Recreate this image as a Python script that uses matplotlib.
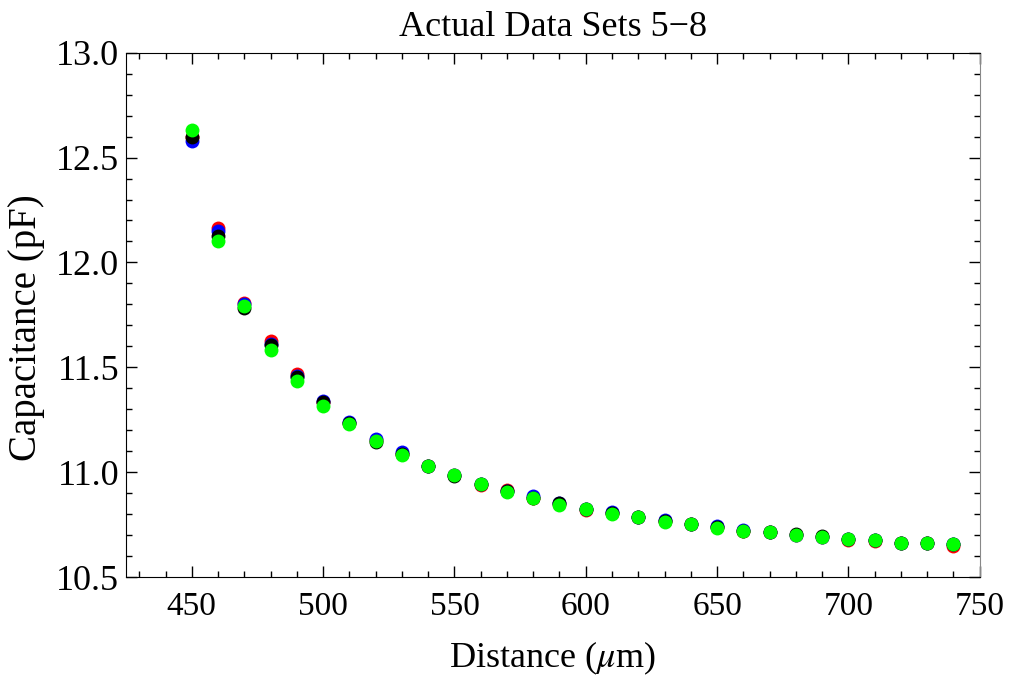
import matplotlib
matplotlib.use('Agg')
from matplotlib import pyplot as plt
from matplotlib.ticker import MultipleLocator

plt.rcParams['font.family'] = ['Liberation Serif', 'DejaVu Serif']
plt.rcParams['mathtext.fontset'] = 'stix'

# distance in micrometres
distance = [450, 460, 470, 480, 490, 500, 510, 520, 530, 540, 550, 560, 570, 580, 590,
            600, 610, 620, 630, 640, 650, 660, 670, 680, 690, 700, 710, 720, 730, 740]

# capacitance (pF) for data sets 5-8
set5 = [12.60, 12.164, 11.806, 11.627, 11.468, 11.335, 11.235, 11.152, 11.088, 11.030,
        10.985, 10.938, 10.913, 10.878, 10.850, 10.820, 10.805, 10.787, 10.766, 10.751,
        10.737, 10.722, 10.713, 10.700, 10.690, 10.675, 10.674, 10.664, 10.661, 10.650]
set6 = [12.58, 12.151, 11.804, 11.612, 11.458, 11.340, 11.240, 11.160, 11.095, 11.031,
        10.986, 10.943, 10.910, 10.885, 10.855, 10.825, 10.810, 10.787, 10.770, 10.752,
        10.742, 10.725, 10.714, 10.702, 10.692, 10.681, 10.675, 10.665, 10.662, 10.656]
set7 = [12.60, 12.127, 11.782, 11.606, 11.455, 11.333, 11.233, 11.145, 11.085, 11.030,
        10.980, 10.943, 10.910, 10.878, 10.855, 10.825, 10.805, 10.787, 10.766, 10.751,
        10.737, 10.722, 10.714, 10.705, 10.695, 10.681, 10.675, 10.665, 10.662, 10.656]
set8 = [12.631, 12.100, 11.794, 11.582, 11.436, 11.315, 11.231, 11.150, 11.083, 11.030,
        10.985, 10.943, 10.908, 10.875, 10.846, 10.825, 10.803, 10.787, 10.764, 10.751,
        10.735, 10.721, 10.713, 10.699, 10.689, 10.681, 10.675, 10.665, 10.662, 10.656]

series = [(set5, 'red'), (set6, 'blue'), (set7, 'black'), (set8, '#00ff00')]

fig = plt.figure(figsize=(10.09, 6.75), dpi=100)
ax = fig.add_axes([0.125, 0.145, 0.846, 0.777])

for values, colour in series:
    ax.plot(distance, values, 'o', color=colour, markersize=10, markeredgewidth=0)

ax.set_xlim(425, 750)
ax.set_ylim(10.5, 13.0)
ax.xaxis.set_major_locator(MultipleLocator(50))
ax.xaxis.set_minor_locator(MultipleLocator(10))
ax.yaxis.set_major_locator(MultipleLocator(0.5))
ax.yaxis.set_minor_locator(MultipleLocator(0.1))
ax.yaxis.set_major_formatter(plt.FormatStrFormatter('%.1f'))

ax.tick_params(which='both', direction='in', top=True, right=True, width=1)
ax.tick_params(which='major', length=8)
ax.tick_params(which='minor', length=4)
ax.tick_params(axis='x', labelsize=24, pad=10)
ax.tick_params(axis='y', labelsize=26, pad=5)
ax.spines['right'].set_color('#888888')

ax.set_xlabel(r'Distance ($\mu$m)', fontsize=26, labelpad=13)
ax.set_ylabel('Capacitance (pF)', fontsize=28)
ax.yaxis.set_label_coords(-0.095, 0.475)
ax.set_title('Actual Data Sets 5\u22128', fontsize=26, pad=12)

fig.savefig('out.png', dpi=100)
